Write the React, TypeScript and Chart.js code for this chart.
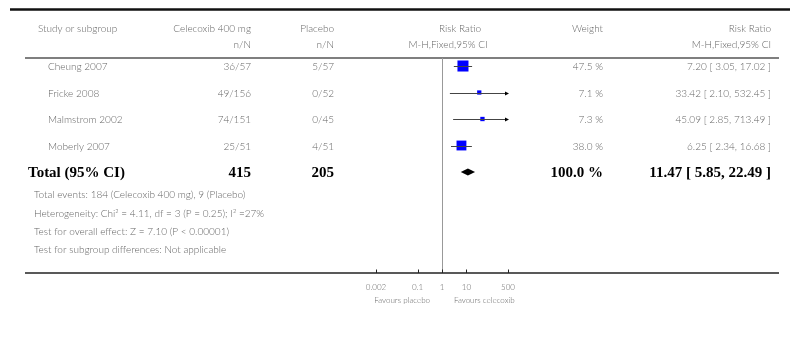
import React, { useEffect, useRef } from "react";
import { Chart, registerables } from "chart.js";
Chart.register(...registerables);

const studies = ["Cheung 2007", "Fricke 2008", "Malmstrom 2002", "Moberly 2007"];
const celecoxibEvents = [36, 49, 74, 25];
const celecoxibTotals = [57, 156, 151, 51];
const placeboEvents = [5, 0, 0, 4];
const placeboTotals = [57, 52, 45, 51];
const riskRatios = [7.2, 33.42, 45.09, 6.25];
const lowerCI = [3.05, 2.1, 2.85, 2.34];
const upperCI = [17.02, 532.45, 713.49, 16.68];
const weights = [47.5, 7.1, 7.3, 38.0];

const totalLabel = "Total (95% CI)";
const totalCelecoxib = 415;
const totalPlacebo = 205;
const totalWeight = 100.0;
const totalRR = 11.47;
const totalLower = 5.85;
const totalUpper = 22.49;

const footnotes = [
  "Total events: 184 (Celecoxib 400 mg), 9 (Placebo)",
  "Heterogeneity: Chi\u00B2 = 4.11, df = 3 (P = 0.25); I\u00B2 =27%",
  "Test for overall effect: Z = 7.10 (P < 0.00001)",
  "Test for subgroup differences: Not applicable",
];

const tickValues = [0.002, 0.1, 1, 10, 500];
const xMin = 0.002;
const xMax = 500;
const leftAxisLabel = "Favours placebo";
const rightAxisLabel = "Favours celecoxib";

const GREY = "#666666";
const FONT = "Lato, 'Open Sans', sans-serif";
const REG = `300 10px ${FONT}`;
const SMALL = `300 8px ${FONT}`;
const BOLD = `bold 15px 'Liberation Serif', serif`;

function fmt(v: number) {
  return v.toFixed(2);
}

const forestPlugin = {
  id: "forest",
  beforeDatasetsDraw(chart: any) {
    const { ctx, chartArea, scales } = chart;
    const x = scales.x;
    ctx.save();
    ctx.strokeStyle = "#111";
    ctx.lineWidth = 2.5;
    ctx.beginPath();
    ctx.moveTo(10, 9.5);
    ctx.lineTo(790, 9.5);
    ctx.stroke();
    ctx.strokeStyle = "#555";
    ctx.lineWidth = 1.5;
    ctx.beginPath();
    ctx.moveTo(25, chartArea.top);
    ctx.lineTo(779, chartArea.top);
    ctx.stroke();
    ctx.strokeStyle = "#222";
    ctx.beginPath();
    ctx.moveTo(25, chartArea.bottom);
    ctx.lineTo(779, chartArea.bottom);
    ctx.stroke();
    const x1 = Math.round(x.getPixelForValue(1)) + 0.5;
    ctx.strokeStyle = "#999";
    ctx.lineWidth = 1;
    ctx.beginPath();
    ctx.moveTo(x1, chartArea.top);
    ctx.lineTo(x1, chartArea.bottom);
    ctx.stroke();
    ctx.strokeStyle = "#222";
    tickValues.forEach((v) => {
      const px = Math.round(x.getPixelForValue(v)) + 0.5;
      ctx.beginPath();
      ctx.moveTo(px, chartArea.bottom);
      ctx.lineTo(px, chartArea.bottom - 3.5);
      ctx.stroke();
    });
    ctx.restore();
  },
  afterDatasetsDraw(chart: any) {
    const { ctx, scales } = chart;
    const x = scales.x;
    const y = scales.y;
    ctx.save();
    studies.forEach((_, i) => {
      const py = Math.round(y.getPixelForValue(i)) + 0.5;
      const lo = Math.max(lowerCI[i], xMin);
      const hi = Math.min(upperCI[i], xMax);
      const x0 = x.getPixelForValue(lo);
      const x1 = x.getPixelForValue(hi);
      ctx.strokeStyle = "#444";
      ctx.lineWidth = 1;
      ctx.beginPath();
      ctx.moveTo(x0, py);
      ctx.lineTo(x1, py);
      ctx.stroke();
      if (upperCI[i] > xMax) {
        ctx.fillStyle = "#000";
        ctx.beginPath();
        ctx.moveTo(x1 + 1, py);
        ctx.lineTo(x1 - 3, py - 2);
        ctx.lineTo(x1 - 3, py + 2);
        ctx.closePath();
        ctx.fill();
      }
    });
    const ty = y.getPixelForValue(studies.length);
    const dl = x.getPixelForValue(totalLower);
    const dr = x.getPixelForValue(totalUpper);
    const dc = x.getPixelForValue(totalRR);
    ctx.fillStyle = "#000";
    ctx.beginPath();
    ctx.moveTo(dl, ty);
    ctx.lineTo(dc, ty - 3.5);
    ctx.lineTo(dr, ty);
    ctx.lineTo(dc, ty + 3.5);
    ctx.closePath();
    ctx.fill();
    ctx.restore();
  },
  afterDraw(chart: any) {
    const { ctx, chartArea, scales } = chart;
    const x = scales.x;
    const y = scales.y;
    const t = (s: string, px: number, py: number, align: CanvasTextAlign, font = REG, color = GREY) => {
      ctx.font = font;
      ctx.fillStyle = color;
      ctx.textAlign = align;
      ctx.textBaseline = "middle";
      ctx.fillText(s, px, py);
    };
    ctx.save();
    const h1 = chartArea.top - 29;
    const h2 = chartArea.top - 13;
    t("Study or subgroup", 38, h1, "left");
    t("Celecoxib 400 mg", 251, h1, "right");
    t("n/N", 251, h2, "right");
    t("Placebo", 334, h1, "right");
    t("n/N", 334, h2, "right");
    t("Risk Ratio", 460, h1, "center");
    t("M-H,Fixed,95% CI", 448, h2, "center");
    t("Weight", 603, h1, "right");
    t("Risk Ratio", 771, h1, "right");
    t("M-H,Fixed,95% CI", 771, h2, "right");

    studies.forEach((s, i) => {
      const py = y.getPixelForValue(i) + 1;
      t(s, 48, py, "left");
      t(`${celecoxibEvents[i]}/${celecoxibTotals[i]}`, 251, py, "right");
      t(`${placeboEvents[i]}/${placeboTotals[i]}`, 334, py, "right");
      t(`${weights[i].toFixed(1)} %`, 603, py, "right");
      t(`${fmt(riskRatios[i])} [ ${fmt(lowerCI[i])}, ${fmt(upperCI[i])} ]`, 771, py, "right");
    });
    const ty = y.getPixelForValue(studies.length) + 1;
    t(totalLabel, 28, ty, "left", BOLD, "#000");
    t(String(totalCelecoxib), 251, ty, "right", BOLD, "#000");
    t(String(totalPlacebo), 334, ty, "right", BOLD, "#000");
    t(`${totalWeight.toFixed(1)} %`, 603, ty, "right", BOLD, "#000");
    t(`${fmt(totalRR)} [ ${fmt(totalLower)}, ${fmt(totalUpper)} ]`, 771, ty, "right", BOLD, "#000");

    footnotes.forEach((f, i) => {
      t(f, 34, ty + 22 + i * 18.4, "left");
    });

    const x1 = x.getPixelForValue(1);
    t(leftAxisLabel, x1 - 12, chartArea.bottom + 27, "right", SMALL);
    t(rightAxisLabel, x1 + 12, chartArea.bottom + 27, "left", SMALL);
    ctx.restore();
  },
};

export default function App() {
  const ref = useRef<HTMLCanvasElement>(null);
  useEffect(() => {
    const chart = new Chart(ref.current as HTMLCanvasElement, {
      type: "scatter",
      data: {
        datasets: [
          {
            data: studies.map((_, i) => ({ x: riskRatios[i], y: i })),
            pointStyle: "rect",
            pointRadius: weights.map((w) => (1.6 * Math.sqrt(w)) / Math.SQRT2),
            backgroundColor: "#0000ff",
            borderColor: "#0000ff",
            borderWidth: 0,
          },
        ],
      },
      options: {
        animation: false,
        responsive: false,
        maintainAspectRatio: false,
        devicePixelRatio: 1,
        events: [],
        layout: { padding: { left: 376, right: 282, top: 58, bottom: 28 } },
        plugins: { legend: { display: false }, tooltip: { enabled: false } },
        scales: {
          x: {
            type: "logarithmic",
            min: xMin,
            max: xMax,
            afterBuildTicks: (axis: any) => {
              axis.ticks = tickValues.map((v) => ({ value: v }));
            },
            afterFit: (axis: any) => {
              axis.height = 40;
            },
            grid: { display: false, drawTicks: false },
            border: { display: false },
            ticks: {
              autoSkip: false,
              maxRotation: 0,
              padding: 10,
              color: GREY,
              font: { family: FONT, size: 8, weight: "300" },
              callback: (v: any) => String(v),
            },
          },
          y: {
            type: "linear",
            min: -0.302,
            max: 7.811,
            reverse: true,
            display: false,
          },
        },
      },
      plugins: [forestPlugin],
    } as any);
    return () => chart.destroy();
  }, []);
  return (
    <div style={{ position: "absolute", left: 0, top: 0, width: 790, height: 341, background: "#fff" }}>
      <canvas ref={ref} width={790} height={341} style={{ display: "block" }} />
    </div>
  );
}
